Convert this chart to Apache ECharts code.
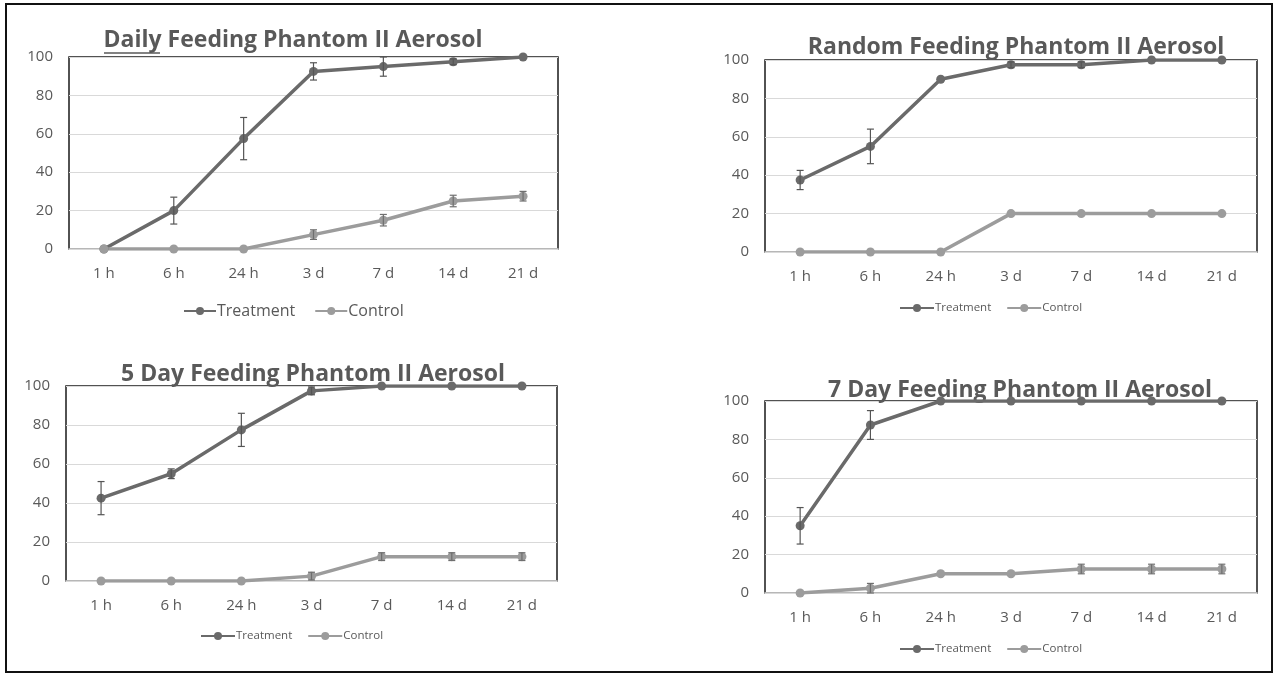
<!DOCTYPE html>
<html>
<head>
<meta charset="utf-8">
<script src="https://cdn.jsdelivr.net/npm/echarts@6/dist/echarts.min.js"></script>
<style>
  html, body { margin: 0; padding: 0; background: #fff; }
  #chart { width: 1275px; height: 675px; }
</style>
</head>
<body>
<div id="chart"></div>
<script>
var categories = ['1 h', '6 h', '24 h', '3 d', '7 d', '14 d', '21 d'];
var yTicks = [0, 20, 40, 60, 80, 100];

// Daily feeding
var dailyTreat = [0, 20, 57.5, 92.5, 95, 97.5, 100];
var dailyTreatErr = [0, 7, 11, 4.5, 5, 1.5, 0];
var dailyCtrl = [0, 0, 0, 7.5, 15, 25, 27.5];
var dailyCtrlErr = [0, 0, 0, 2.5, 3, 3, 2.5];

// Random feeding
var randomTreat = [37.5, 55, 90, 97.5, 97.5, 100, 100];
var randomTreatErr = [5, 9, 0, 1.5, 1.5, 0, 0];
var randomCtrl = [0, 0, 0, 20, 20, 20, 20];
var randomCtrlErr = [0, 0, 0, 0, 0, 0, 0];

// 5 day feeding
var fiveTreat = [42.5, 55, 77.5, 97.5, 100, 100, 100];
var fiveTreatErr = [8.5, 2.5, 8.5, 2, 0, 0, 0];
var fiveCtrl = [0, 0, 0, 2.5, 12.5, 12.5, 12.5];
var fiveCtrlErr = [0, 0, 0, 2, 2, 2, 2];

// 7 day feeding
var sevenTreat = [35, 87.5, 100, 100, 100, 100, 100];
var sevenTreatErr = [9.5, 7.5, 0, 0, 0, 0, 0];
var sevenCtrl = [0, 2.5, 10, 10, 12.5, 12.5, 12.5];
var sevenCtrlErr = [0, 2.5, 0, 0, 2.5, 2.5, 2.5];

var treatColor = '#6a6a6a';
var ctrlColor = '#9c9c9c';
var textColor = '#595959';
var font = '"Open Sans", sans-serif';

var panels = [
  { title: 'Daily Feeding Phantom II Aerosol', tx: 293, ty: 29,
    grid: { left: 69, top: 57, width: 489, height: 192 },
    legend: { left: 183, top: 303, size: 16, w: 32, gap: 19 },
    treat: dailyTreat, treatErr: dailyTreatErr, ctrl: dailyCtrl, ctrlErr: dailyCtrlErr },
  { title: 'Random Feeding Phantom II Aerosol', tx: 1016, ty: 36,
    grid: { left: 765, top: 60, width: 492, height: 192 },
    legend: { left: 899, top: 302, size: 11.5, w: 34, gap: 15 },
    treat: randomTreat, treatErr: randomTreatErr, ctrl: randomCtrl, ctrlErr: randomCtrlErr },
  { title: '5 Day Feeding Phantom II Aerosol', tx: 313, ty: 363,
    grid: { left: 66, top: 386, width: 491, height: 195 },
    legend: { left: 200, top: 630, size: 11.5, w: 34, gap: 15 },
    treat: fiveTreat, treatErr: fiveTreatErr, ctrl: fiveCtrl, ctrlErr: fiveCtrlErr },
  { title: '7 Day Feeding Phantom II Aerosol', tx: 1020, ty: 379,
    grid: { left: 765, top: 401, width: 492, height: 192 },
    legend: { left: 899, top: 643, size: 11.5, w: 34, gap: 15 },
    treat: sevenTreat, treatErr: sevenTreatErr, ctrl: sevenCtrl, ctrlErr: sevenCtrlErr }
];

function errData(vals, errs) {
  var out = [];
  vals.forEach(function (v, i) {
    if (errs[i] > 0) out.push([i, v - errs[i], Math.min(v + errs[i], 100)]);
  });
  return out;
}

function renderErr(params, api) {
  var lo = api.coord([api.value(0), api.value(1)]);
  var hi = api.coord([api.value(0), api.value(2)]);
  var cap = 3.5;
  var style = { stroke: api.visual('color'), lineWidth: 1.2 };
  return {
    type: 'group',
    children: [
      { type: 'line', shape: { x1: lo[0], y1: lo[1], x2: hi[0], y2: hi[1] }, style: style },
      { type: 'line', shape: { x1: lo[0] - cap, y1: lo[1], x2: lo[0] + cap, y2: lo[1] }, style: style },
      { type: 'line', shape: { x1: hi[0] - cap, y1: hi[1], x2: hi[0] + cap, y2: hi[1] }, style: style }
    ]
  };
}

var titles = [], grids = [], xAxes = [], yAxes = [], legends = [], series = [];

panels.forEach(function (p, i) {
  titles.push({
    text: p.title, left: p.tx, top: p.ty, textAlign: 'center', padding: 0, z: 1,
    textStyle: { fontFamily: font, fontSize: 23, fontWeight: 'bold', color: textColor }
  });
  grids.push(Object.assign({ show: true, borderColor: '#1a1a1a', borderWidth: 1.5, z: 0 }, p.grid));
  xAxes.push({
    type: 'category', gridIndex: i, data: categories, boundaryGap: true,
    axisTick: { show: false },
    axisLine: { lineStyle: { color: '#d9d9d9', width: 1.5 } },
    axisLabel: { color: textColor, fontFamily: font, fontSize: 15, margin: 17 }
  });
  yAxes.push({
    type: 'value', gridIndex: i, min: yTicks[0], max: yTicks[yTicks.length - 1], interval: 20,
    axisLine: { show: false }, axisTick: { show: false },
    splitLine: { lineStyle: { color: '#d9d9d9', width: 1.2 } },
    axisLabel: { color: textColor, fontFamily: font, fontSize: 15, margin: 16 }
  });
  legends.push({
    data: ['Treatment', 'Control'], left: p.legend.left, top: p.legend.top, padding: 0,
    itemWidth: p.legend.w, itemHeight: 10, itemGap: p.legend.gap,
    textStyle: { color: textColor, fontFamily: font, fontSize: p.legend.size, padding: [0, 0, 0, -4] }
  });
  var lineCommon = {
    type: 'line', xAxisIndex: i, yAxisIndex: i, symbol: 'circle', symbolSize: 9,
    z: 3, animation: false
  };
  series.push(Object.assign({}, lineCommon, {
    name: 'Treatment', data: p.treat, itemStyle: { color: treatColor }, lineStyle: { width: 3.5, color: treatColor }
  }));
  series.push(Object.assign({}, lineCommon, {
    name: 'Control', data: p.ctrl, itemStyle: { color: ctrlColor }, lineStyle: { width: 3.5, color: ctrlColor }
  }));
  series.push({
    type: 'custom', name: 'Treatment', xAxisIndex: i, yAxisIndex: i, z: 4, animation: false,
    itemStyle: { color: '#555555' }, renderItem: renderErr,
    encode: { x: 0, y: [1, 2] }, data: errData(p.treat, p.treatErr)
  });
  series.push({
    type: 'custom', name: 'Control', xAxisIndex: i, yAxisIndex: i, z: 4, animation: false,
    itemStyle: { color: '#6f6f6f' }, renderItem: renderErr,
    encode: { x: 0, y: [1, 2] }, data: errData(p.ctrl, p.ctrlErr)
  });
});

var chart = echarts.init(document.getElementById('chart'));
chart.setOption({
  backgroundColor: '#ffffff',
  animation: false,
  title: titles,
  grid: grids,
  xAxis: xAxes,
  yAxis: yAxes,
  legend: legends,
  series: series,
  graphic: [
    { type: 'rect', shape: { x: 6, y: 4, width: 1266, height: 668 },
      style: { fill: 'none', stroke: '#111', lineWidth: 2 }, z: 10 },
    { type: 'line', shape: { x1: 104, y1: 53, x2: 160, y2: 53 },
      style: { stroke: textColor, lineWidth: 1.5 }, z: 10 }
  ]
});
</script>
</body>
</html>
